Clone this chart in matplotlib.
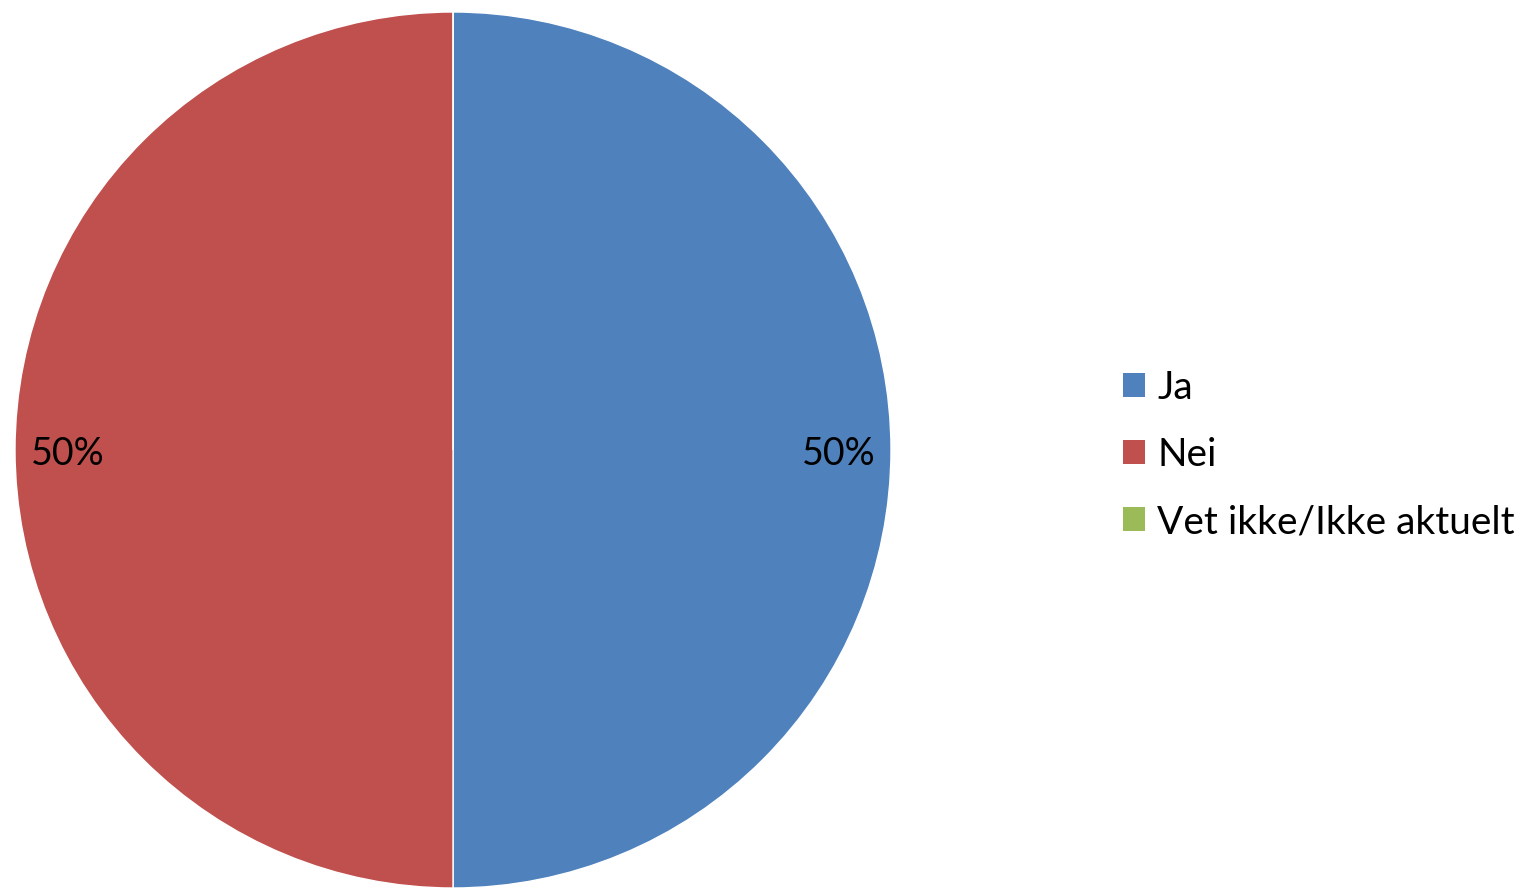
"""
Pie chart: Ja / Nei / Vet ikke
"""
import matplotlib.pyplot as plt
from matplotlib.patches import Patch

plt.rcParams['font.family'] = ['Lato', 'DejaVu Sans']

# Data
categories = ['Ja', 'Nei', 'Vet ikke/Ikke aktuelt']
values = [50, 50, 0]
colors = ['#4F81BD', '#C0504D', '#9BBB59']

fig = plt.figure(figsize=(15.2, 8.88), dpi=100)
ax = fig.add_axes([15 / 1520, 0.0, 876 / 1520, 876 / 888])

wedges, texts = ax.pie(
    values,
    colors=colors,
    startangle=90,
    counterclock=False,
    labels=[f'{v}%' if v > 0 else '' for v in values],
    labeldistance=0.88,
    wedgeprops=dict(edgecolor='white', linewidth=1),
    textprops=dict(fontsize=27, color='black'),
)
for t in texts:
    t.set_horizontalalignment('center')
    x, y = t.get_position()
    t.set_position((x, y - 0.008))
ax.set_xlim(-1, 1)
ax.set_ylim(-1, 1)
ax.set_aspect('equal')

handles = [Patch(facecolor=c, edgecolor='none') for c in colors]
fig.legend(
    handles, categories,
    loc='center left',
    bbox_to_anchor=(1088 / 1520, 1 - 455 / 888),
    frameon=False,
    fontsize=28,
    handlelength=0.57,
    handleheight=0.57,
    handletextpad=0.31,
    labelspacing=0.8,
)

fig.savefig('out.png', dpi=100)
